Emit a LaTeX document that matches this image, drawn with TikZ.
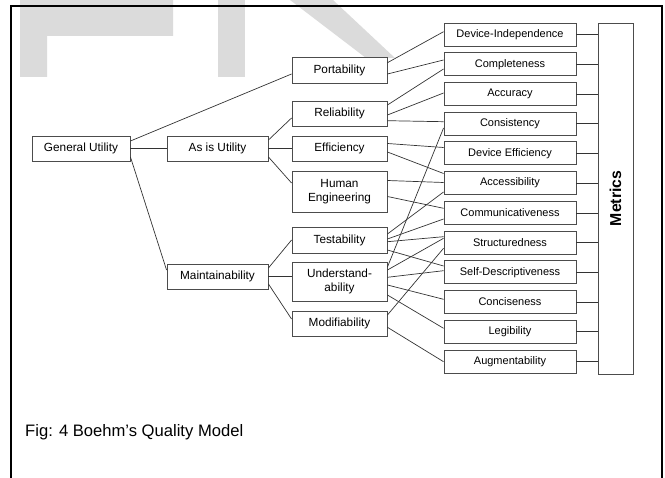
\documentclass[tikz,border=0pt]{standalone}
\usepackage{fontspec}
\setmainfont{Liberation Sans}
\begin{document}
\begin{tikzpicture}[x=1pt,y=-1pt,
  box/.style={draw=black!70, line width=0.9pt, fill=white, inner sep=0pt,
    align=center, font=\fontsize{11.8}{14.5}\selectfont},
  lbox/.style={box, minimum width=98, minimum height=25},
  mbox/.style={box, minimum width=101, minimum height=25},
  qbox/.style={box, minimum width=95, minimum height=25},
  rbox/.style={box, minimum width=132, minimum height=23,
    font=\fontsize{11}{13}\selectfont},
  link/.style={draw=black!80, line width=0.7pt},
  wmark/.style={fill=black!14, draw=none}]
\useasboundingbox (0,0) rectangle (665,478);

% faint letters in the background
\fill[wmark] (20,0) -- (173,0) -- (173,36) -- (47,36) -- (47,77) -- (20,77) -- cycle;
\fill[wmark] (218,0) rectangle (245,77);
\fill[wmark] (290,0) -- (333,0) -- (395,58) -- (366,58) -- cycle;

% page frame
\draw[line width=2.2pt] (11,490) -- (11,6) -- (662,6) -- (662,490);

% first levels
\node[lbox] (gu) at (81,148.5) {General Utility};
\node[mbox] (au) at (217.5,148.5) {As is Utility};
\node[mbox] (mt) at (217.5,276.5) {Maintainability};

% intermediate constructs
\node[qbox, minimum height=26] (port) at (339.5,70) {Portability};
\node[qbox] (rel) at (339.5,113.5) {Reliability};
\node[qbox] (eff) at (339.5,148.5) {Efficiency};
\node[qbox, minimum height=41] (he) at (339.5,191.5) {Human\\Engineering};
\node[qbox, minimum height=26] (test) at (339.5,240) {Testability};
\node[qbox, minimum height=39] (und) at (339.5,281.5) {Understand-\\ability};
\node[qbox] (mod) at (339.5,323.5) {Modifiability};

% metrics column
\node[draw=black!70, line width=0.9pt, fill=white, minimum width=35,
  minimum height=351, inner sep=0pt] (mx) at (615.5,198.5) {};
\node[rotate=90, font=\fontsize{15.8}{18}\selectfont\bfseries] (mxl) at (mx.center) {Metrics};

% primitive characteristics
\foreach \n/\t [count=\i from 0] in {di/Device-Independence, cm/Completeness,
    ac/Accuracy, cs/Consistency, de/Device Efficiency, as/Accessibility,
    co/Communicativeness, st/Structuredness, sd/Self-Descriptiveness,
    cn/Conciseness, lg/Legibility, ag/Augmentability}{
  \node[rbox] (\n) at (510,34.5+29.73*\i) {\t};
  \draw[link] (\n.east) -- (\n.east -| mx.west);
}

% tree from general utility
\draw[link] (gu.east |- 0,141) -- (port.west |- 0,74);
\draw[link] (gu.east) -- (au.west);
\draw[link] (gu.east |- 0,157) -- (mt.west |- 0,270);
\draw[link] (au.east |- 0,140) -- (rel.west |- 0,118);
\draw[link] (au.east) -- (eff.west);
\draw[link] (au.east |- 0,157) -- (he.west |- 0,183);
\draw[link] (mt.east |- 0,268) -- (test.west |- 0,240);
\draw[link] (mt.east |- 0,276) -- (und.west |- 0,276);
\draw[link] (mt.east |- 0,284) -- (mod.west |- 0,319);

% constructs to primitives
\draw[link] (port.east |- 0,62.7) -- (di.west |- 0,31.7);
\draw[link] (port.east |- 0,74) -- (cm.west |- 0,60);
\draw[link] (rel.east |- 0,105) -- (cm.west |- 0,69);
\draw[link] (rel.east |- 0,115) -- (ac.west |- 0,93);
\draw[link] (rel.east |- 0,120.7) -- (cs.west |- 0,121.7);
\draw[link] (eff.east |- 0,143.5) -- (de.west |- 0,147.5);
\draw[link] (eff.east |- 0,152) -- (as.west |- 0,173.5);
\draw[link] (he.east |- 0,180.5) -- (as.west |- 0,182.5);
\draw[link] (he.east |- 0,196.5) -- (co.west |- 0,208.3);
\draw[link] (test.east |- 0,234) -- (as.west |- 0,192);
\draw[link] (test.east |- 0,239) -- (co.west |- 0,219);
\draw[link] (test.east |- 0,241.7) -- (st.west |- 0,236.7);
\draw[link] (test.east |- 0,250) -- (sd.west |- 0,266);
\draw[link] (und.east |- 0,267) -- (cs.west |- 0,128);
\draw[link] (und.east |- 0,270) -- (st.west |- 0,238.3);
\draw[link] (und.east |- 0,277.3) -- (sd.west |- 0,270.7);
\draw[link] (und.east |- 0,285) -- (cn.west |- 0,299.3);
\draw[link] (und.east |- 0,295) -- (lg.west |- 0,328.3);
\draw[link] (mod.east |- 0,315) -- (st.west |- 0,248.3);
\draw[link] (mod.east |- 0,327.3) -- (ag.west |- 0,361.7);

% caption
\node[anchor=base west, inner sep=0pt, font=\fontsize{16.6}{19}\selectfont] (cap)
  at (25,437) {Fig: 4 Boehm’s Quality Model};
\end{tikzpicture}
\end{document}
